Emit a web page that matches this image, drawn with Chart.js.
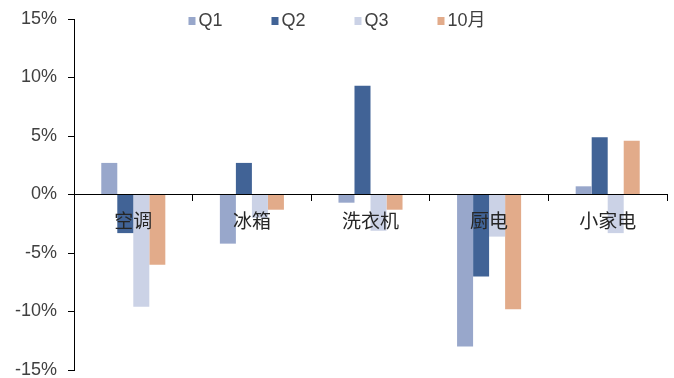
<!DOCTYPE html>
<html>
<head>
<meta charset="utf-8">
<script src="https://cdn.jsdelivr.net/npm/chart.js@4.4.0/dist/chart.umd.min.js"></script>
<style>
  html, body { margin: 0; padding: 0; background: #fff; }
  #wrap { width: 674px; height: 378px; }
</style>
</head>
<body>
<div id="wrap"><canvas id="salesChart"></canvas></div>
<script>
const categories = ["空调", "冰箱", "洗衣机", "厨电", "小家电"];
const seriesNames = ["Q1", "Q2", "Q3", "10月"];
const q1 = [2.7, -4.2, -0.7, -13.0, 0.7];
const q2 = [-3.3, 2.7, 9.3, -7.0, 4.9];
const q3 = [-9.6, -2.0, -3.1, -3.6, -3.3];
const oct = [-6.0, -1.3, -1.3, -9.8, 4.6];
const colors = ["#98a7cb", "#416396", "#cbd2e6", "#e2ab8a"];

// legend row drawn over the top of the plot area, fixed-width slots
const topLegend = {
    id: "topLegend",
    afterDraw(chart) {
        const ctx = chart.ctx;
        const slot = 83, box = 7, gap = 3, cy = 21;
        const items = chart.data.datasets;
        ctx.save();
        ctx.font = '18px "Liberation Sans", "Noto Sans CJK SC"';
        ctx.textBaseline = "middle";
        const lastW = box + gap + ctx.measureText(items[items.length - 1].label).width;
        let x = (chart.width - slot * (items.length - 1) - lastW) / 2;
        items.forEach(ds => {
            ctx.fillStyle = ds.backgroundColor;
            ctx.fillRect(x, cy - 4, box, 8);
            ctx.fillStyle = "#404040";
            ctx.fillText(ds.label, x + box + gap, cy);
            x += slot;
        });
        ctx.restore();
    }
};

new Chart(document.getElementById("salesChart"), {
    type: "bar",
    data: {
        labels: categories,
        datasets: [q1, q2, q3, oct].map((values, i) => ({
            label: seriesNames[i],
            data: values,
            backgroundColor: colors[i],
            categoryPercentage: 0.54,
            barPercentage: 1
        }))
    },
    options: {
        responsive: true,
        maintainAspectRatio: false,
        animation: false,
        layout: { padding: { top: 19, right: 7, bottom: 8, left: 0 } },
        plugins: {
            legend: { display: false },
            tooltip: { enabled: false }
        },
        scales: {
            x: {
                // axis crosses at zero, labels painted on top of the bars
                position: { y: 0 },
                afterFit(scale) { scale.height = 0; },
                grid: {
                    drawOnChartArea: false,
                    tickLength: 6,
                    offset: true,
                    z: 1,
                    color: c => c.index === categories.length ? "transparent" : "#000"
                },
                border: { color: "#000", width: 1, z: 1 },
                ticks: {
                    z: 1,
                    padding: 9,
                    color: "#262626",
                    font: { size: 19, family: '"Noto Sans CJK SC"' }
                }
            },
            y: {
                min: -15,
                max: 15,
                afterFit(scale) {
                    scale.width = 74;
                    // plot edges come from layout.padding only
                    scale.paddingTop = 0;
                    scale.paddingBottom = 0;
                },
                grid: { drawOnChartArea: false, tickLength: 6, color: "#000" },
                border: { color: "#000", width: 1 },
                ticks: {
                    stepSize: 5,
                    padding: 11,
                    color: "#404040",
                    font: { size: 18, family: '"Liberation Sans"', lineHeight: 1 },
                    callback: v => v + "%"
                }
            }
        }
    },
    plugins: [topLegend]
});
</script>
</body>
</html>
